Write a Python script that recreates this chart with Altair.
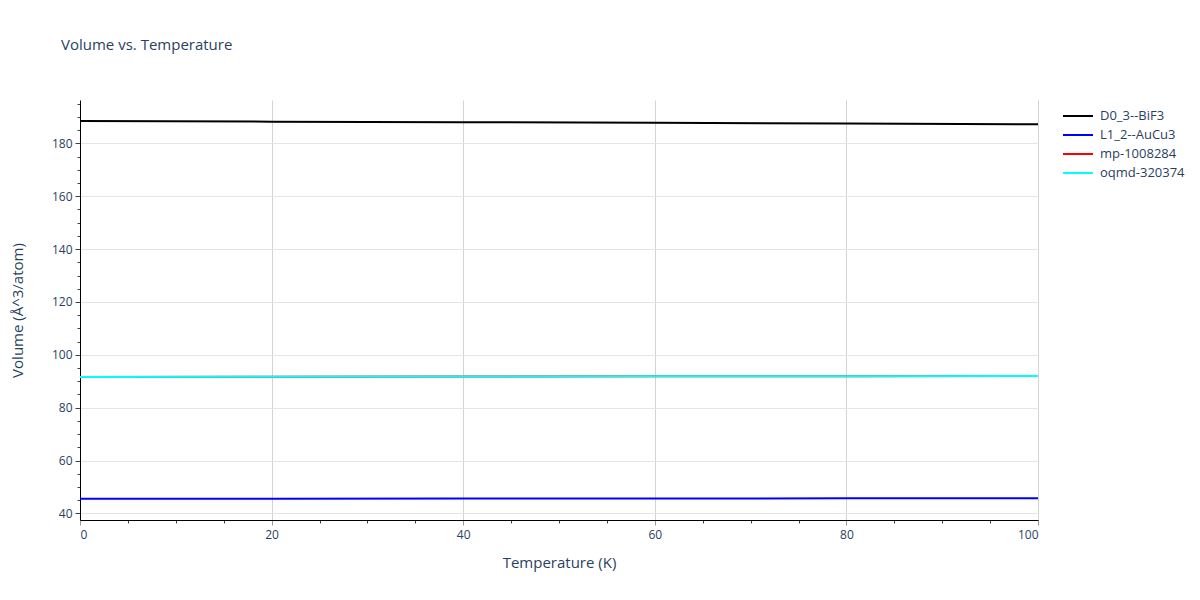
import altair as alt
import pandas as pd

temps = [0, 20, 40, 60, 80, 100]
d0_3_bif3 = [188.5, 188.2, 188.0, 187.8, 187.5, 187.2]
l1_2_aucu3 = [45.5, 45.5, 45.6, 45.6, 45.7, 45.7]
mp_1008284 = [91.6, 91.7, 91.8, 91.9, 91.9, 92.0]
oqmd_320374 = [91.6, 91.7, 91.8, 91.9, 91.9, 92.0]

series_names = ["D0_3--BiF3", "L1_2--AuCu3", "mp-1008284", "oqmd-320374"]
series_vals = [d0_3_bif3, l1_2_aucu3, mp_1008284, oqmd_320374]
series_colors = ["#000000", "#0000ff", "#ff0000", "#00ffff"]

rows = []
for order, (name, vals) in enumerate(zip(series_names, series_vals)):
    for t, v in zip(temps, vals):
        rows.append({"T": t, "V": v, "series": name, "ord": order})
df = pd.DataFrame(rows)

TXT = "#2a3f5f"
FONT = "Open Sans"

x_axis = alt.Axis(
    title="Temperature (K)",
    values=list(range(0, 101, 5)),
    labelExpr="datum.value % 20 === 0 ? datum.label : ''",
    gridColor={"condition": {"test": "datum.value % 20 === 0", "value": "#d3d3d3"}, "value": "transparent"},
    tickSize={"condition": {"test": "datum.value % 20 === 0", "value": 5}, "value": 3},
    tickColor={"condition": {"test": "datum.value % 20 === 0", "value": "#999999"}, "value": "#444444"},
    domainColor="#000000",
    labelColor=TXT, labelFontSize=12, labelFont=FONT, labelPadding=4,
    titleColor=TXT, titleFontSize=15, titleFont=FONT, titleFontWeight="normal", titlePadding=15,
)
y_axis = alt.Axis(
    title="Volume (Å^3/atom)",
    values=list(range(40, 196, 5)),
    labelExpr="datum.value % 20 === 0 ? datum.label : ''",
    gridColor={"condition": {"test": "datum.value % 20 === 0", "value": "#e5e5e5"}, "value": "transparent"},
    tickSize={"condition": {"test": "datum.value % 20 === 0", "value": 5}, "value": 3},
    tickColor="#444444",
    domainColor="#000000",
    labelColor=TXT, labelFontSize=12, labelFont=FONT, labelPadding=3,
    titleColor=TXT, titleFontSize=15, titleFont=FONT, titleFontWeight="normal", titlePadding=26,
)

chart = alt.Chart(df).mark_line(strokeWidth=2).encode(
    x=alt.X("T:Q", scale=alt.Scale(domain=[0, 100], nice=False, zero=False), axis=x_axis),
    y=alt.Y("V:Q", scale=alt.Scale(domain=[37.5, 196.4], nice=False, zero=False), axis=y_axis),
    color=alt.Color(
        "series:N",
        scale=alt.Scale(domain=series_names, range=series_colors),
        legend=alt.Legend(
            title=None, orient="none", legendX=990, legendY=8,
            symbolType="M-2.14,0H2.14", symbolStrokeWidth=2, symbolSize=196,
            labelOffset=14,
            labelColor=TXT, labelFontSize=13, labelFont=FONT, rowPadding=4,
        ),
    ),
    order=alt.Order("ord:Q"),
    detail="series:N",
).properties(
    width=958, height=420,
    title=alt.TitleParams("Volume vs. Temperature", anchor="start", frame="group", dx=-19, offset=47,
                          fontSize=15, font=FONT, fontWeight="normal", color=TXT),
    autosize=alt.AutoSizeParams(type="none"),
    padding={"left": 72, "top": 92, "right": 154, "bottom": 72},
).configure_view(stroke=None)

chart.save("out.html", embed_options={"renderer": "svg", "actions": False})
